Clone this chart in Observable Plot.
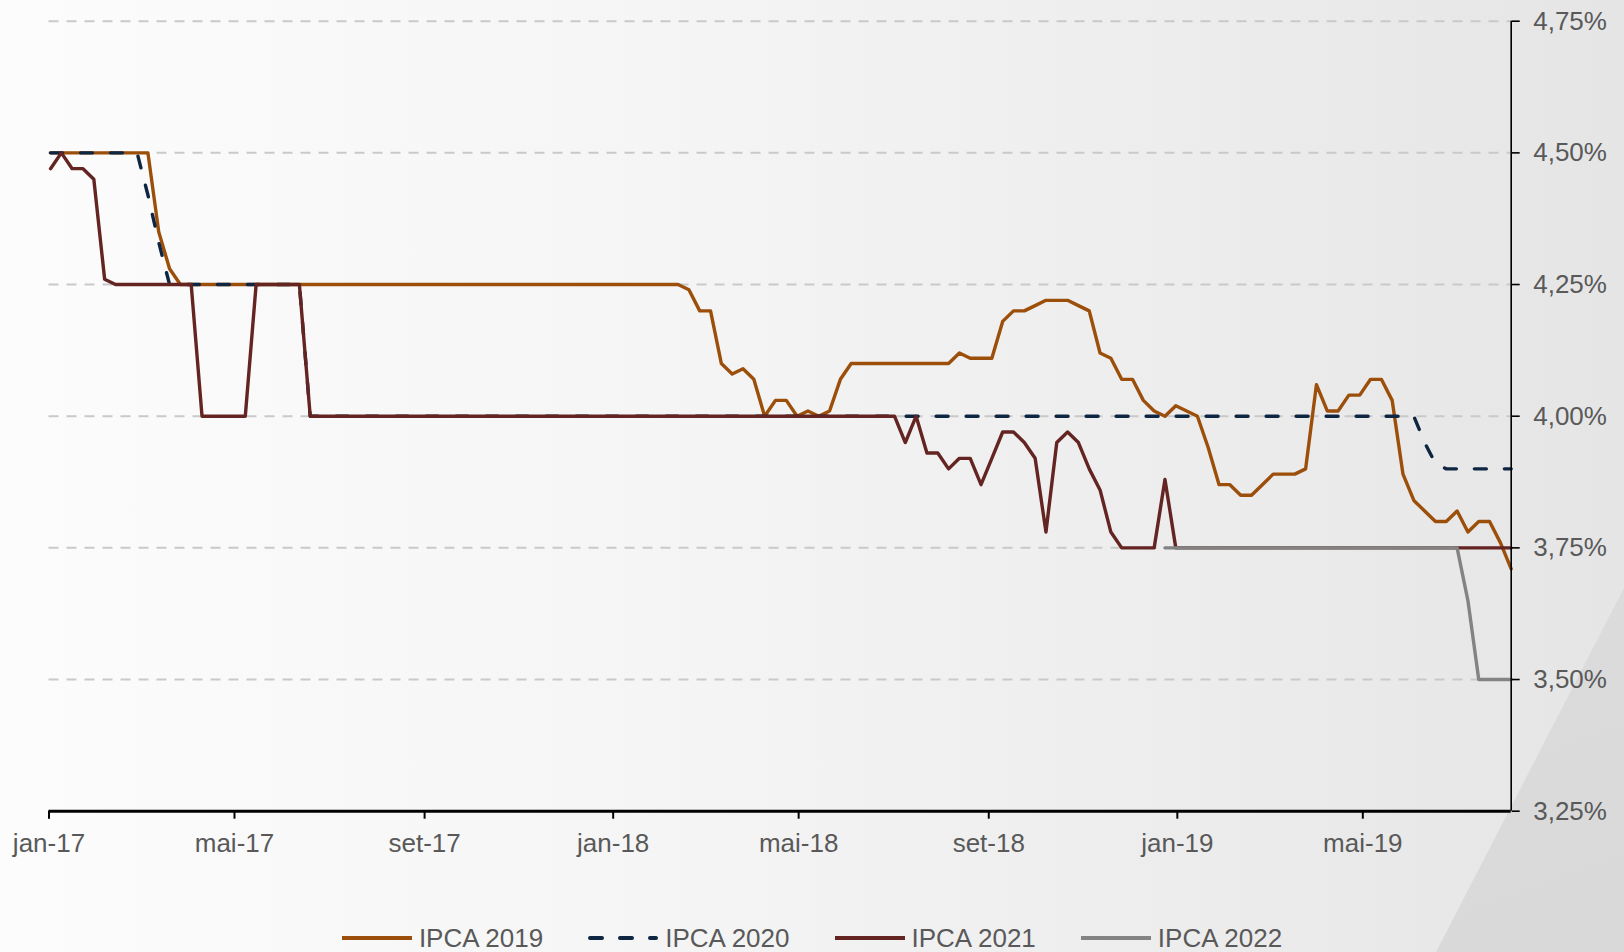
<!DOCTYPE html>
<html>
<head>
<meta charset="utf-8">
<script src="https://cdn.jsdelivr.net/npm/d3@7"></script>
<script src="https://cdn.jsdelivr.net/npm/@observablehq/plot@0.6"></script>
<style>
  html, body { margin: 0; padding: 0; }
  body {
    width: 1624px; height: 952px; overflow: hidden; position: relative;
    font-family: "Liberation Sans", Arial, sans-serif;
    background: linear-gradient(90deg, #fcfcfc 0%, #f5f5f6 40%, #ececed 75%, #e5e5e6 100%);
  }
  #wedge {
    position: absolute; left: 0; top: 0; width: 1624px; height: 952px;
    background: linear-gradient(160deg, #e2e2e2 0%, #d9d9da 100%);
    clip-path: polygon(1624px 588px, 1624px 952px, 1436px 952px);
  }
  #chart { position: absolute; left: 0; top: 0; }
  #legend {
    position: absolute; left: 0; top: 918px; width: 1624px; height: 40px;
    display: flex; justify-content: center; align-items: center; gap: 45px;
    font-size: 26px; color: #595959;
  }
  .item { display: flex; align-items: center; }
  .item svg { display: block; margin-right: 7px; }
</style>
</head>
<body>
<div id="wedge"></div>
<div id="chart"></div>
<div id="legend"></div>
<script>
// Weekly Focus survey dates (Mondays), first survey and step
const firstWeek = "2017-01-02";
const weekStepDays = 7;

// IPCA expectations (% a.a.), one value per week
const ipca2019 = [
  4.50,4.50,4.50,4.50,4.50,4.50,4.50,4.50,4.50,4.50,
  4.35,4.28,
  4.25,4.25,4.25,4.25,4.25,4.25,4.25,4.25,4.25,4.25,
  4.25,4.25,4.25,4.25,4.25,4.25,4.25,4.25,4.25,4.25,
  4.25,4.25,4.25,4.25,4.25,4.25,4.25,4.25,4.25,4.25,
  4.25,4.25,4.25,4.25,4.25,4.25,4.25,4.25,4.25,4.25,
  4.25,4.25,4.25,4.25,4.25,4.25,4.25,
  4.24,4.20,4.20,4.10,4.08,4.09,4.07,4.00,4.03,4.03,4.00,4.01,4.00,4.01,4.07,
  4.10,4.10,4.10,4.10,4.10,4.10,4.10,4.10,4.10,4.10,
  4.12,4.11,4.11,4.11,4.18,4.20,4.20,4.21,4.22,4.22,4.22,4.21,4.20,4.12,4.11,
  4.07,4.07,4.03,4.01,4.00,4.02,4.01,4.00,3.94,3.87,3.87,3.85,3.85,3.87,3.89,
  3.89,3.89,3.90,4.06,4.01,4.01,4.04,4.04,4.07,4.07,4.03,3.89,3.84,3.82,3.80,
  3.80,3.82,3.78,3.80,3.80,3.76,3.71
];
const ipca2020 = [
  4.50,4.50,4.50,4.50,4.50,4.50,4.50,4.50,4.50,
  4.42,4.33,
  4.25,4.25,4.25,4.25,4.25,4.25,4.25,4.25,4.25,4.25,4.25,4.25,4.25,
  4.00,4.00,4.00,4.00,4.00,4.00,4.00,4.00,4.00,4.00,
  4.00,4.00,4.00,4.00,4.00,4.00,4.00,4.00,4.00,4.00,
  4.00,4.00,4.00,4.00,4.00,4.00,4.00,4.00,4.00,4.00,
  4.00,4.00,4.00,4.00,4.00,4.00,4.00,4.00,4.00,4.00,
  4.00,4.00,4.00,4.00,4.00,4.00,4.00,4.00,4.00,4.00,
  4.00,4.00,4.00,4.00,4.00,4.00,4.00,4.00,4.00,4.00,
  4.00,4.00,4.00,4.00,4.00,4.00,4.00,4.00,4.00,4.00,
  4.00,4.00,4.00,4.00,4.00,4.00,4.00,4.00,4.00,4.00,
  4.00,4.00,4.00,4.00,4.00,4.00,4.00,4.00,4.00,4.00,
  4.00,4.00,4.00,4.00,4.00,4.00,4.00,4.00,4.00,4.00,
  4.00,4.00,4.00,
  3.95,3.91,
  3.90,3.90,3.90,3.90,3.90,3.90,3.90
];
const ipca2021 = [
  4.47,4.50,4.47,4.47,4.45,4.26,
  4.25,4.25,4.25,4.25,4.25,4.25,4.25,4.25,
  4.00,4.00,4.00,4.00,4.00,
  4.25,4.25,4.25,4.25,4.25,
  4.00,4.00,4.00,4.00,4.00,4.00,4.00,4.00,4.00,4.00,
  4.00,4.00,4.00,4.00,4.00,4.00,4.00,4.00,4.00,4.00,
  4.00,4.00,4.00,4.00,4.00,4.00,4.00,4.00,4.00,4.00,
  4.00,4.00,4.00,4.00,4.00,4.00,4.00,4.00,4.00,4.00,
  4.00,4.00,4.00,4.00,4.00,4.00,4.00,4.00,4.00,4.00,
  4.00,4.00,4.00,4.00,4.00,
  3.95,4.00,3.93,3.93,3.90,3.92,3.92,3.87,3.92,3.97,
  3.97,3.95,3.92,3.78,3.95,3.97,3.95,3.90,3.86,3.78,
  3.75,3.75,3.75,3.75,
  3.88,
  3.75,3.75,3.75,3.75,3.75,3.75,3.75,3.75,3.75,3.75,
  3.75,3.75,3.75,3.75,3.75,3.75,3.75,3.75,3.75,3.75,
  3.75,3.75,3.75,3.75,3.75,3.75,3.75,3.75,3.75,3.75,
  3.75,3.75
];
// IPCA 2022 starts being surveyed later
const ipca2022Start = "2018-12-24";
const ipca2022 = [
  3.75,3.75,3.75,3.75,3.75,3.75,3.75,3.75,3.75,3.75,
  3.75,3.75,3.75,3.75,3.75,3.75,3.75,3.75,3.75,3.75,
  3.75,3.75,3.75,3.75,3.75,3.75,3.75,3.75,
  3.65,3.50,3.50,3.50,3.50
];

const seriesNames = ["IPCA 2019", "IPCA 2020", "IPCA 2021", "IPCA 2022"];
const seriesColors = ["#9c4f0a", "#0f2642", "#632422", "#838383"];

const yTicks = [3.25, 3.50, 3.75, 4.00, 4.25, 4.50, 4.75];
const gridValues = [3.50, 3.75, 4.00, 4.25, 4.50, 4.75];
const xTicks = ["2017-01-01","2017-05-01","2017-09-01","2018-01-01","2018-05-01","2018-09-01","2019-01-01","2019-05-01"];
const xTickLabels = ["jan-17","mai-17","set-17","jan-18","mai-18","set-18","jan-19","mai-19"];
const xDomain = ["2017-01-01", "2019-08-05"];

const DAY = 864e5;
function toRows(values, startStr, name) {
  const s = new Date(startStr + "T00:00:00Z").getTime();
  return values.map((v, i) => ({date: new Date(s + i * weekStepDays * DAY), value: v, series: name}));
}
const rows2019 = toRows(ipca2019, firstWeek, seriesNames[0]);
const rows2020 = toRows(ipca2020, firstWeek, seriesNames[1]);
const rows2021 = toRows(ipca2021, firstWeek, seriesNames[2]);
const rows2022 = toRows(ipca2022, ipca2022Start, seriesNames[3]);

const parse = s => new Date(s + "T00:00:00Z");
const xTickDates = xTicks.map(parse);
const labelOf = new Map(xTickDates.map((d, i) => [+d, xTickLabels[i]]));

const LW = 3.4;
const plot = Plot.plot({
  width: 1624,
  height: 900,
  marginTop: 20.7,
  marginBottom: 89.3,
  marginLeft: 48.5,
  marginRight: 113.3,
  style: {background: "transparent", fontFamily: "'Liberation Sans', Arial, sans-serif", fontSize: "26px", color: "#595959", overflow: "visible"},
  x: {type: "utc", domain: xDomain.map(parse)},
  y: {domain: [3.25, 4.75]},
  marks: [
    Plot.ruleY(gridValues, {stroke: "#c9c9c9", strokeWidth: 2, strokeDasharray: "10,8"}),
    Plot.line(rows2019, {x: "date", y: "value", stroke: seriesColors[0], strokeWidth: LW}),
    Plot.line(rows2020, {x: "date", y: "value", stroke: seriesColors[1], strokeWidth: LW, strokeDasharray: "12,18", strokeLinecap: "round"}),
    Plot.line(rows2021, {x: "date", y: "value", stroke: seriesColors[2], strokeWidth: LW}),
    Plot.line(rows2022, {x: "date", y: "value", stroke: seriesColors[3], strokeWidth: LW}),
    Plot.ruleY([3.25], {stroke: "black", strokeWidth: 3}),
    Plot.ruleX([parse(xDomain[1])], {stroke: "black", strokeWidth: 1.6}),
    Plot.axisX({
      ticks: xTickDates, tickFormat: d => labelOf.get(+d), tickSize: 8, tickPadding: 14,
      stroke: "black", strokeWidth: 2, fill: "#595959", fontSize: 26, label: null
    }),
    Plot.axisY({
      anchor: "right", ticks: yTicks, tickFormat: d => d.toFixed(2).replace(".", ",") + "%",
      tickSize: 8, tickPadding: 14, stroke: "black", strokeWidth: 1.6, fill: "#595959",
      fontSize: 26, label: null
    })
  ]
});
document.getElementById("chart").appendChild(plot);

// Legend
const legend = document.getElementById("legend");
seriesNames.forEach((name, i) => {
  const item = document.createElement("div");
  item.className = "item";
  const dash = i === 1 ? ' stroke-dasharray="12,18" stroke-linecap="round"' : '';
  item.innerHTML = `<svg width="70" height="10"><line x1="${i === 1 ? 2 : 0}" y1="5" x2="${i === 1 ? 68 : 70}" y2="5" stroke="${seriesColors[i]}" stroke-width="4"${dash}/></svg><span>${name}</span>`;
  legend.appendChild(item);
});
</script>
</body>
</html>
